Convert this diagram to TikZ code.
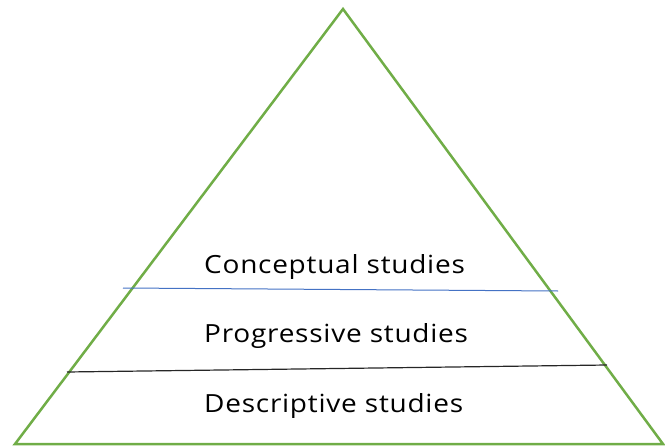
\documentclass[tikz,border=0pt]{standalone}
\usepackage{fontspec}
\setmainfont{Open Sans}
\newfontfamily\labelfont[FakeStretch=1.12,LetterSpace=3]{Open Sans}
\definecolor{pgreen}{HTML}{70AD47}
\definecolor{pblue}{HTML}{4472C4}
\begin{document}
\begin{tikzpicture}[x=1pt,y=-1pt,
  label/.style={anchor=base west,inner sep=0pt,font=\labelfont\fontsize{25}{30}\selectfont}]
\useasboundingbox (0,0) rectangle (665,447);
\coordinate (top) at (343,9);
\coordinate (bl) at (15,444);
\coordinate (br) at (663,444);
\draw[pgreen,line width=2.5pt,line join=miter] (top) -- (br) -- (bl) -- cycle;
\coordinate (b1) at (123,288);
\coordinate (b2) at (558,291);
\draw[pblue,line width=1pt] (b1) -- (b2);
\coordinate (k1) at (67,372);
\coordinate (k2) at (607,365);
\draw[black!85,line width=1.2pt] (k1) -- (k2);
\node[label] (c) at (204,273) {Conceptual studies};
\node[label] (p) at (204,342) {Progressive studies};
\node[label] (d) at (204,412) {Descriptive studies};
\end{tikzpicture}
\end{document}
